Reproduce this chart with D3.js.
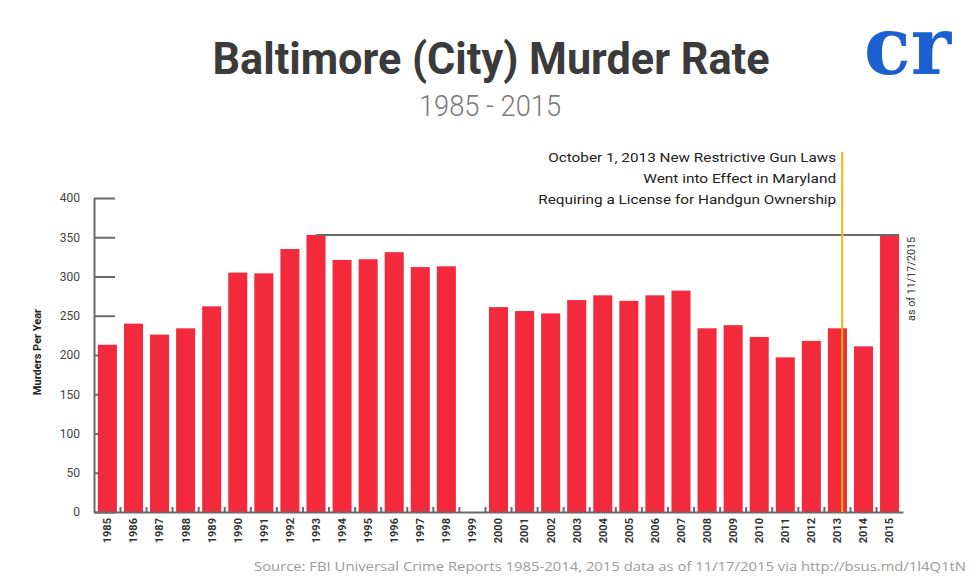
<!DOCTYPE html>
<html>
<head>
<meta charset="utf-8">
<script src="https://cdn.jsdelivr.net/npm/d3@7"></script>
<style>
  body { margin: 0; background: #fff; }
  svg { display: block; }
</style>
</head>
<body>
<svg id="chart" width="980" height="588"></svg>
<script>
// data
const years = ["1985", "1986", "1987", "1988", "1989", "1990", "1991", "1992", "1993", "1994",
  "1995", "1996", "1997", "1998", "1999", "2000", "2001", "2002", "2003", "2004", "2005",
  "2006", "2007", "2008", "2009", "2010", "2011", "2012", "2013", "2014", "2015"];
const murders = [213, 240, 226, 234, 262, 305, 304, 335, 353, 321,
  322, 331, 312, 313, null, 261, 256, 253, 270, 276, 269,
  276, 282, 234, 238, 223, 197, 218, 234, 211, 353];
const yTicks = [0, 50, 100, 150, 200, 250, 300, 350, 400];
const noteLines = ["October 1, 2013 New Restrictive Gun Laws",
  "Went into Effect in Maryland",
  "Requiring a License for Handgun Ownership"];
const noteYear = "2013";
const levelFrom = "1993";
const levelTo = "2015";
const asOf = "as of 11/17/2015";
const title = "Baltimore (City) Murder Rate";
const subtitle = "1985 - 2015";
const source = "Source: FBI Universal Crime Reports 1985-2014, 2015 data as of 11/17/2015 via http://bsus.md/1l4Q1tN";

const svg = d3.select("#chart");
const font = "Roboto, 'Noto Sans', sans-serif";

const x = d3.scaleBand()
  .domain(years)
  .range([94, 903])
  .paddingInner(0.27)
  .paddingOuter(0.15);

const y = d3.scaleLinear()
  .domain([0, 400])
  .range([512, 198]);

// title block
svg.append("text")
  .attr("x", 491).attr("y", 74)
  .attr("text-anchor", "middle")
  .attr("textLength", 557).attr("lengthAdjust", "spacingAndGlyphs")
  .style("font-family", font).style("font-weight", 700).style("font-size", "44px")
  .style("fill", "#3b3b3b")
  .text(title);

svg.append("text")
  .attr("x", 490).attr("y", 116)
  .attr("text-anchor", "middle")
  .attr("textLength", 142).attr("lengthAdjust", "spacingAndGlyphs")
  .style("font-family", font).style("font-weight", 300).style("font-size", "30px")
  .style("fill", "#7a7a7a")
  .text(subtitle);

// logo
svg.append("text")
  .attr("x", 864).attr("y", 74)
  .attr("textLength", 87).attr("lengthAdjust", "spacingAndGlyphs")
  .style("font-family", "'DejaVu Serif', serif").style("font-weight", 700).style("font-size", "80px")
  .style("fill", "#1c5fd0")
  .text("cr");

// y axis (ticks reach inward, under the bars)
const yAxis = svg.append("g")
  .attr("transform", "translate(94,0)")
  .call(d3.axisLeft(y).tickValues(yTicks).tickSizeInner(-21).tickSizeOuter(0).tickPadding(14));
yAxis.select(".domain").attr("stroke", "#6a6a6a").attr("stroke-width", 2);
yAxis.selectAll(".tick line").attr("stroke", "#6a6a6a").attr("stroke-width", 2);
yAxis.selectAll(".tick text")
  .style("font-family", font).style("font-size", "12px").style("fill", "#444");

svg.append("text")
  .attr("transform", "translate(41,352) rotate(-90)")
  .attr("text-anchor", "middle")
  .style("font-family", font).style("font-weight", 700).style("font-size", "11px")
  .style("fill", "#222")
  .text("Murders Per Year");

// bars
svg.append("g")
  .selectAll("rect")
  .data(years.map((d, i) => ({ year: d, value: murders[i] })).filter(d => d.value != null))
  .join("rect")
  .attr("x", d => x(d.year))
  .attr("y", d => y(d.value))
  .attr("width", x.bandwidth())
  .attr("height", d => y(0) - y(d.value))
  .attr("fill", "#f32a3c");

// level line from 1993 to 2015
const levelValue = murders[years.indexOf(levelFrom)];
svg.append("line")
  .attr("x1", x(levelFrom) + x.bandwidth() / 2)
  .attr("x2", x(levelTo) + x.bandwidth())
  .attr("y1", y(levelValue)).attr("y2", y(levelValue))
  .attr("stroke", "#6a6a6a").attr("stroke-width", 2);

svg.append("text")
  .attr("transform", `translate(${x(levelTo) + x.bandwidth() + 12},${y(levelValue) + 86}) rotate(-90)`)
  .attr("dy", "0.35em")
  .attr("textLength", 84).attr("lengthAdjust", "spacingAndGlyphs")
  .style("font-family", font).style("font-size", "10px").style("fill", "#333")
  .text(asOf);

// x axis
const xAxis = svg.append("g")
  .attr("transform", `translate(0,${y(0)})`)
  .call(d3.axisBottom(x).tickSize(0).tickPadding(0));
xAxis.select(".domain").attr("stroke", "#6a6a6a").attr("stroke-width", 2);
xAxis.selectAll(".tick text")
  .attr("transform", "rotate(-90)")
  .attr("x", -6).attr("y", 0).attr("dy", "0.35em")
  .style("text-anchor", "end")
  .style("font-family", font).style("font-weight", 700).style("font-size", "11px")
  .style("fill", "#333");

// small marks between the bars
const gap = x.step() * x.paddingInner() / 2;
svg.append("g")
  .selectAll("line")
  .data(years.slice(1))
  .join("line")
  .attr("x1", d => x(d) - gap).attr("x2", d => x(d) - gap)
  .attr("y1", y(0) - 5).attr("y2", y(0))
  .attr("stroke", "#6a6a6a").attr("stroke-width", 2);

// gun law marker
const noteX = x(noteYear) + x.bandwidth() * 0.75;
svg.append("line")
  .attr("x1", noteX).attr("x2", noteX)
  .attr("y1", 152).attr("y2", y(0))
  .attr("stroke", "#f7b500").attr("stroke-width", 2);

const noteWidths = [288, 193, 298];
svg.append("g")
  .selectAll("text")
  .data(noteLines)
  .join("text")
  .attr("x", noteX - 6)
  .attr("y", (d, i) => 162 + i * 21)
  .attr("text-anchor", "end")
  .attr("textLength", (d, i) => noteWidths[i]).attr("lengthAdjust", "spacingAndGlyphs")
  .style("font-family", font).style("font-size", "13px").style("fill", "#222")
  .text(d => d);

// source
svg.append("text")
  .attr("x", 966).attr("y", 571)
  .attr("text-anchor", "end")
  .attr("textLength", 712).attr("lengthAdjust", "spacingAndGlyphs")
  .style("font-family", "'Open Sans', sans-serif").style("font-size", "12.5px")
  .style("fill", "#9a9a9a")
  .text(source);
</script>
</body>
</html>
